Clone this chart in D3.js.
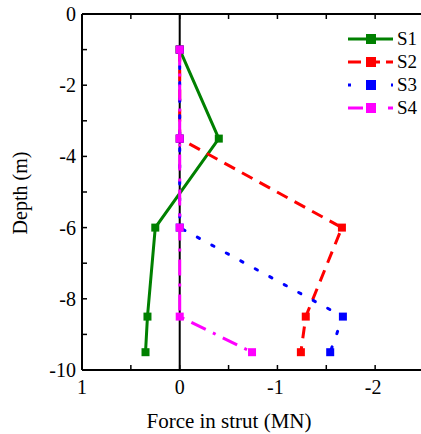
<!DOCTYPE html>
<html><head><meta charset="utf-8">
<script src="https://cdn.jsdelivr.net/npm/d3@7"></script>
<style>body{margin:0;background:#fff}svg{display:block}text{font-family:"Liberation Serif","Times New Roman",serif}</style>
</head><body><svg id="c" width="421" height="434"></svg>
<script>
const depths = [-1, -3.5, -6, -8.5, -9.5];
const s1 = [0, -0.40, 0.25, 0.33, 0.35];
const s2 = [0, 0, -1.66, -1.29, -1.24];
const s3 = [0, 0, 0, -1.67, -1.54];
const s4 = [0, 0, 0, 0, -0.74];
const seriesNames = ["S1", "S2", "S3", "S4"];
const colors = ["#008000", "#ff0000", "#0000ff", "#ff00ff"];
const dashes = [null, "12,8", "2.5,14", "16,8,3,8"];
const xTicks = [1, 0, -1, -2];
const yTicks = [0, -2, -4, -6, -8, -10];

const svg = d3.select("#c");
const L = 82, R = 424, T = 14, B = 370;
const x = d3.scaleLinear().domain([1, -2.5]).range([L, R]);
const y = d3.scaleLinear().domain([0, -10]).range([T, B]);

const g = svg.append("g");
const xMinor = d3.range(1, -2.51, -0.5);
g.selectAll(".xb").data(xMinor).enter().append("line")
  .attr("x1", d => x(d)).attr("x2", d => x(d)).attr("y1", B).attr("y2", B - 5)
  .attr("stroke", "#000").attr("stroke-width", 1.5);
g.selectAll(".xt").data(xMinor).enter().append("line")
  .attr("x1", d => x(d)).attr("x2", d => x(d)).attr("y1", T).attr("y2", T + 5)
  .attr("stroke", "#000").attr("stroke-width", 1.5);
const yMinor = d3.range(0, -10.01, -1);
g.selectAll(".yl").data(yMinor).enter().append("line")
  .attr("x1", L).attr("x2", L + 5).attr("y1", d => y(d)).attr("y2", d => y(d))
  .attr("stroke", "#000").attr("stroke-width", 1.5);

g.append("line").attr("x1", L).attr("x2", R).attr("y1", T).attr("y2", T).attr("stroke", "#000").attr("stroke-width", 2);
g.append("line").attr("x1", L).attr("x2", R).attr("y1", B).attr("y2", B).attr("stroke", "#000").attr("stroke-width", 2);
g.append("line").attr("x1", L).attr("x2", L).attr("y1", T).attr("y2", B).attr("stroke", "#000").attr("stroke-width", 2);
g.append("line").attr("x1", x(0)).attr("x2", x(0)).attr("y1", T).attr("y2", B).attr("stroke", "#000").attr("stroke-width", 2);

g.selectAll(".xlab").data(xTicks).enter().append("text")
  .attr("x", d => x(d) + (d < 0 ? -2 : 0)).attr("y", B + 24).attr("text-anchor", "middle")
  .attr("font-size", 20).text(d => d);
g.selectAll(".ylab").data(yTicks).enter().append("text")
  .attr("x", L - 6).attr("y", d => y(d) + 7).attr("text-anchor", "end")
  .attr("font-size", 20).text(d => d);

svg.append("text").attr("x", 229).attr("y", 428).attr("text-anchor", "middle")
  .attr("font-size", 21).text("Force in strut (MN)");
svg.append("text").attr("transform", "translate(27,193) rotate(-90)").attr("text-anchor", "middle")
  .attr("font-size", 20).text("Depth (m)");

const all = [s1, s2, s3, s4];
const line = d3.line().x(d => x(d[0])).y(d => y(d[1]));
all.forEach((s, i) => {
  const pts = s.map((v, j) => [v, depths[j]]);
  const p = svg.append("path").attr("d", line(pts)).attr("fill", "none")
    .attr("stroke", colors[i]).attr("stroke-width", 3);
  if (dashes[i]) p.attr("stroke-dasharray", dashes[i]);
  if (i === 2) p.attr("stroke-linecap", "round");
  svg.selectAll(".m" + i).data(pts).enter().append("rect")
    .attr("x", d => x(d[0]) - 4).attr("y", d => y(d[1]) - 4)
    .attr("width", 8).attr("height", 8).attr("fill", colors[i]);
});

const ly = [39, 62, 85, 108];
seriesNames.forEach((n, i) => {
  const lg = svg.append("g");
  const ln = lg.append("line").attr("x1", 348).attr("x2", 393).attr("y1", ly[i]).attr("y2", ly[i])
    .attr("stroke", colors[i]).attr("stroke-width", 3);
  if (i === 1) ln.attr("stroke-dasharray", "13,6");
  if (i === 2) ln.attr("stroke-dasharray", "3,18.5");
  if (i === 3) ln.attr("stroke-dasharray", "15,25");
  lg.append("rect").attr("x", 366).attr("y", ly[i] - 5).attr("width", 10).attr("height", 10).attr("fill", colors[i]);
  lg.append("text").attr("x", 397).attr("y", ly[i] + 6).attr("font-size", 19).text(n);
});
</script></body></html>
